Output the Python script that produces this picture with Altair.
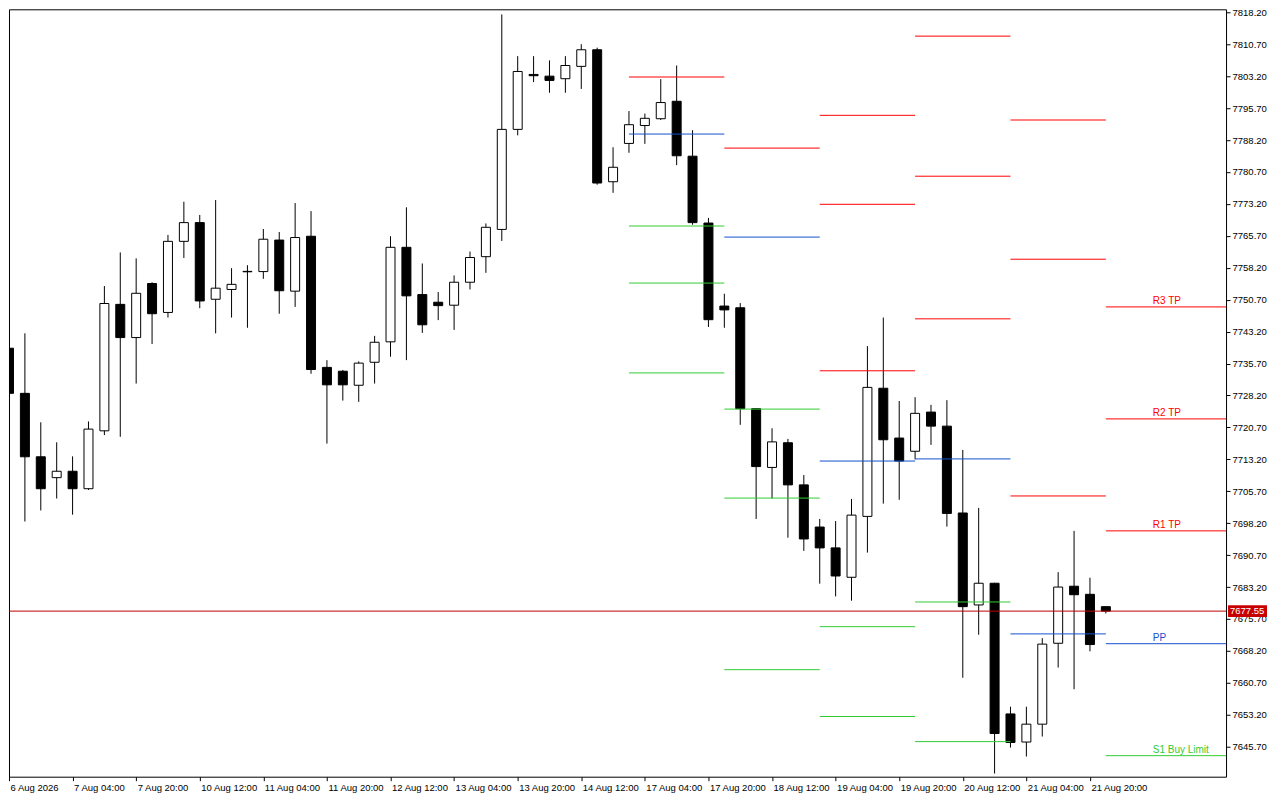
import altair as alt
import pandas as pd

# ---------------- data ----------------
opens = [7739.3, 7728.7, 7713.8, 7708.9, 7710.4, 7706.3, 7719.9, 7749.6, 7741.8, 7754.5,
         7747.7, 7764.4, 7768.8, 7750.8, 7753.1, 7757.35, 7757.3, 7764.7, 7752.7, 7765.6,
         7734.8, 7733.9, 7730.6, 7736.0, 7740.8, 7763.0, 7751.9, 7750.1, 7749.4, 7754.8,
         7760.8, 7767.2, 7790.7, 7803.6, 7803.2, 7802.6, 7805.5, 7809.4, 7778.4, 7787.4,
         7791.6, 7793.2, 7797.3, 7784.4, 7768.7, 7749.2, 7748.8, 7725.1, 7711.3, 7717.1,
         7707.2, 7697.3, 7692.4, 7685.5, 7699.8, 7729.9, 7718.2, 7715.1, 7724.3, 7721.0,
         7700.6, 7679.0, 7684.1, 7653.4, 7646.8, 7651.0, 7670.0, 7683.4, 7681.5, 7678.6]
highs = [7740.0, 7742.8, 7721.9, 7717.2, 7713.9, 7722.1, 7753.9, 7761.8, 7760.4, 7754.8,
         7765.9, 7773.7, 7770.6, 7774.1, 7758.1, 7758.8, 7767.3, 7766.6, 7773.4, 7771.5,
         7736.5, 7734.2, 7736.2, 7742.2, 7765.6, 7772.4, 7759.2, 7752.5, 7756.4, 7762.0,
         7768.6, 7817.7, 7807.9, 7807.9, 7806.9, 7807.9, 7810.7, 7809.9, 7786.5, 7795.0,
         7794.4, 7802.5, 7805.7, 7790.5, 7769.9, 7752.1, 7749.9, 7725.2, 7720.5, 7718.0,
         7709.5, 7699.2, 7698.7, 7703.9, 7739.8, 7746.5, 7726.9, 7727.8, 7726.0, 7727.1,
         7715.4, 7701.8, 7684.2, 7655.1, 7655.1, 7671.2, 7686.7, 7696.4, 7685.4, 7678.7]
lows = [7727.8, 7698.6, 7701.2, 7704.0, 7700.2, 7706.0, 7718.9, 7718.5, 7731.0, 7740.3,
        7746.5, 7760.5, 7748.7, 7742.8, 7746.5, 7744.1, 7755.6, 7747.4, 7749.0, 7733.3,
        7716.9, 7727.0, 7726.7, 7731.0, 7737.3, 7736.5, 7742.9, 7745.9, 7743.6, 7753.1,
        7757.0, 7764.5, 7789.3, 7801.8, 7799.3, 7799.3, 7800.2, 7777.7, 7775.8, 7785.2,
        7787.3, 7792.9, 7782.3, 7768.3, 7744.3, 7744.1, 7721.3, 7699.2, 7704.0, 7694.8,
        7691.7, 7684.0, 7681.0, 7680.0, 7691.3, 7702.8, 7703.7, 7713.2, 7716.6, 7697.4,
        7661.9, 7672.0, 7639.4, 7645.5, 7643.4, 7648.1, 7664.3, 7659.2, 7668.1, 7677.0]
closes = [7728.7, 7713.8, 7706.3, 7710.4, 7706.3, 7720.3, 7749.8, 7741.8, 7752.2, 7747.4,
          7764.4, 7768.8, 7750.4, 7753.4, 7754.3, 7757.25, 7764.9, 7752.8, 7765.3, 7734.3,
          7730.7, 7730.7, 7735.8, 7740.7, 7763.0, 7751.6, 7744.8, 7749.3, 7754.8, 7760.6,
          7767.7, 7790.7, 7804.3, 7803.3, 7802.2, 7805.7, 7809.4, 7778.1, 7781.8, 7791.8,
          7793.3, 7797.0, 7784.5, 7768.8, 7746.0, 7748.3, 7725.1, 7711.5, 7717.3, 7707.2,
          7694.5, 7692.4, 7685.8, 7700.1, 7730.1, 7717.8, 7712.8, 7724.0, 7721.0, 7700.5,
          7678.6, 7684.1, 7648.8, 7646.7, 7651.0, 7669.8, 7683.2, 7681.4, 7669.7, 7677.55]

x_tick_labels = ["6 Aug 2026", "7 Aug 04:00", "7 Aug 20:00", "10 Aug 12:00", "11 Aug 04:00",
                 "11 Aug 20:00", "12 Aug 12:00", "13 Aug 04:00", "13 Aug 20:00", "14 Aug 12:00",
                 "17 Aug 04:00", "17 Aug 20:00", "18 Aug 12:00", "19 Aug 04:00", "19 Aug 20:00",
                 "20 Aug 12:00", "21 Aug 04:00", "21 Aug 20:00"]
x_tick_step = 4

y_tick_values = [7645.70, 7653.20, 7660.70, 7668.20, 7675.70, 7683.20, 7690.70, 7698.20,
                 7705.70, 7713.20, 7720.70, 7728.20, 7735.70, 7743.20, 7750.70, 7758.20,
                 7765.70, 7773.20, 7780.70, 7788.20, 7795.70, 7803.20, 7810.70, 7818.20]

# daily pivot segments (start bar of each day)
segment_starts = [39, 45, 51, 57, 63, 69]
level_segment = [0, 0, 0, 0, 0,
                 1, 1, 1, 1, 1,
                 2, 2, 2, 2, 2, 2,
                 3, 3, 3, 3, 3, 3,
                 4, 4, 4, 4,
                 5, 5, 5, 5, 5]
level_values = [7803.0, 7789.6, 7768.0, 7754.6, 7733.5,
                7786.3, 7765.4, 7725.0, 7704.1, 7663.8,
                7794.0, 7773.1, 7734.0, 7712.8, 7673.9, 7652.8,
                7812.6, 7779.7, 7746.2, 7713.3, 7679.7, 7646.9,
                7792.9, 7760.2, 7704.6, 7672.2,
                7749.0, 7722.7, 7696.4, 7669.9, 7643.6]
level_kinds = ["R", "PP", "S", "S", "S",
               "R", "PP", "S", "S", "S",
               "R", "R", "R", "PP", "S", "S",
               "R", "R", "R", "PP", "S", "S",
               "R", "R", "R", "PP",
               "R", "R", "R", "PP", "S"]
last_labels = ["R3 TP", "R2 TP", "R1 TP", "PP", "S1 Buy Limit"]
current_price = 7677.55

# ---------------- scales / layout ----------------
X_MIN, X_MAX = 0, 76.56
Y_MIN, Y_MAX = 7638.66, 7818.90
W, H = 1218, 768

RED, BLUE, GREEN = "#FF0000", "#1550D0", "#32CD32"
FONT = "Liberation Sans"

n = len(opens)
candles = pd.DataFrame({
    "idx": list(range(n)), "open": opens, "high": highs, "low": lows, "close": closes,
    "dir": ["down" if c < o else "up" for o, c in zip(opens, closes)],
})

ends = [s + 6 for s in segment_starts[:-1]] + [X_MAX]
levels = pd.DataFrame({
    "start": [segment_starts[s] for s in level_segment],
    "end": [ends[s] for s in level_segment],
    "value": level_values,
    "kind": level_kinds,
})
last_seg = len(segment_starts) - 1
last_levels = levels[[s == last_seg for s in level_segment]].copy()
last_levels["label"] = last_labels

price_df = pd.DataFrame({"price": [current_price], "label": [f"{current_price:.2f}"]})

xscale = alt.Scale(domain=[X_MIN, X_MAX], nice=False, zero=False, padding=0)
yscale = alt.Scale(domain=[Y_MIN, Y_MAX], nice=False, zero=False, padding=0)
kind_color = alt.Scale(domain=["R", "PP", "S"], range=[RED, BLUE, GREEN])

label_js = "[" + ",".join(f"'{s}'" for s in x_tick_labels) + "]"
xaxis = alt.Axis(values=[i * x_tick_step for i in range(len(x_tick_labels))],
                 labelExpr=f"{label_js}[round(datum.value/{x_tick_step})]",
                 labelAlign="left", labelOffset=1, tickSize=4, labelPadding=2,
                 domain=False, grid=False, title=None, labelFlush=False, labelOverlap=False)
yaxis = alt.Axis(orient="right", values=y_tick_values, format=".2f", tickSize=4,
                 labelPadding=2, domain=False, grid=False, title=None,
                 labelFlush=False, labelOverlap=False, labelBaseline="middle",
                 labelSeparation=0)


def X(field):
    return alt.X(field, scale=xscale, axis=xaxis)


def Y(field):
    return alt.Y(field, scale=yscale, axis=yaxis)


wicks = alt.Chart(candles).mark_rule(color="black", strokeWidth=1, clip=True).encode(
    x=X("idx:Q"), y=Y("low:Q"), y2="high:Q",
)
bodies = alt.Chart(candles).mark_bar(size=9, stroke="black", strokeWidth=1, clip=True).encode(
    x=X("idx:Q"), y=Y("open:Q"), y2="close:Q",
    fill=alt.Fill("dir:N", scale=alt.Scale(domain=["down", "up"], range=["black", "white"]), legend=None),
)
level_lines = alt.Chart(levels).mark_rule(strokeWidth=1).encode(
    x=X("start:Q"), x2="end:Q", y=Y("value:Q"),
    color=alt.Color("kind:N", scale=kind_color, legend=None),
)
level_text = alt.Chart(last_levels).mark_text(
    align="left", baseline="alphabetic", dx=47, dy=-3, font=FONT, fontSize=10
).encode(
    x=X("start:Q"), y=Y("value:Q"), text="label:N",
    color=alt.Color("kind:N", scale=kind_color, legend=None),
)
price_line = alt.Chart(price_df).mark_rule(color="#C00000", strokeWidth=1).encode(
    y=Y("price:Q"),
)
price_tag = alt.Chart(price_df).mark_rule(color="#C80000", strokeWidth=12).encode(
    y=Y("price:Q"), x=alt.value(W + 2), x2=alt.value(W + 41),
)
price_text = alt.Chart(price_df).mark_text(
    align="left", baseline="middle", color="white", font=FONT, fontSize=9.5
).encode(
    y=Y("price:Q"), x=alt.value(W + 4), text="label:N",
)

chart = alt.layer(
    wicks, bodies, level_lines, price_line, level_text, price_tag, price_text
).properties(
    width=W, height=H,
    autosize=alt.AutoSizeParams(type="none"),
    padding={"left": 1, "top": 1, "right": 46, "bottom": 18},
    background="white",
).configure_view(
    stroke="black", strokeWidth=1
).configure_axis(
    labelFont=FONT, labelFontSize=9.5, labelColor="black",
    tickColor="black", tickWidth=1, labelOverlap=False,
)

chart.save("out.html", embed_options={"renderer": "svg", "actions": False})
